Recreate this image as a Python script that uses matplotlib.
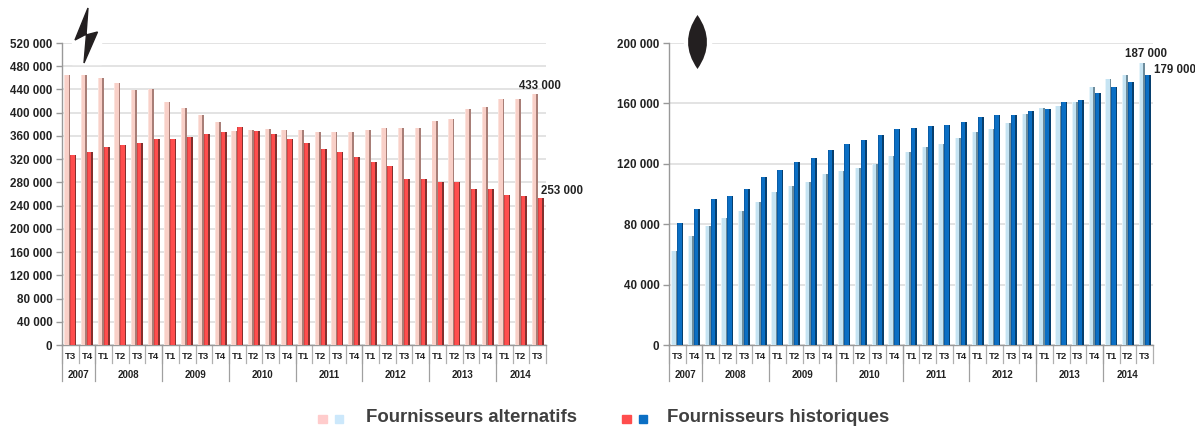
#!/usr/bin/env python3
"""Two bar panels: electricity and gas customers, alternative vs incumbent suppliers."""

import matplotlib
matplotlib.use("Agg")
import matplotlib.pyplot as plt
import numpy as np
from matplotlib.patches import PathPatch, Polygon, Rectangle
from matplotlib.path import Path

quarters = ["T3", "T4"] + ["T1", "T2", "T3", "T4"] * 6 + ["T1", "T2", "T3"]
years = ["2007", "2008", "2009", "2010", "2011", "2012", "2013", "2014"]
year_counts = [2, 4, 4, 4, 4, 4, 4, 3]

elec_alt = [465, 465, 459, 451, 439, 441, 418, 408, 396, 384, 369, 371, 372, 371, 370,
            366, 366, 367, 370, 374, 373, 374, 385, 390, 407, 409, 423, 424, 433]
elec_hist = [327, 332, 341, 344, 347, 354, 355, 359, 363, 366, 375, 369, 363, 355, 348,
             338, 332, 324, 315, 308, 286, 286, 281, 280, 268, 268, 259, 256, 253]
gas_alt = [62, 72, 79, 84, 89, 95, 101, 105, 108, 113, 115, 117, 120, 125, 128,
           131, 133, 137, 141, 143, 147, 153, 157, 158, 161, 171, 176, 179, 187]
gas_hist = [81, 90, 97, 99, 103, 111, 116, 121, 124, 129, 133, 136, 139, 143, 144,
            145, 146, 148, 151, 152, 152, 155, 156, 161, 162, 167, 171, 174, 179]

elec_ticks = list(range(0, 520001, 40000))
gas_ticks = list(range(0, 200001, 40000))

FONT = "Liberation Sans"
W, H = 1195.0, 426.0
BAR_W = 0.36
LABEL = dict(family=FONT, fontweight="bold", color="#222222")


def fmt(v):
    return f"{v:,}".replace(",", " ")


def draw_bars(ax, x, vals, main, light, dark):
    ax.bar(x, vals, BAR_W, color=main, zorder=3)
    ax.bar(x - BAR_W * 0.42, vals, BAR_W * 0.16, color=light, zorder=4)
    ax.bar(x + BAR_W * 0.36, vals, BAR_W * 0.28, color=dark, zorder=4)


def draw_panel(left, vals_alt, vals_hist, ticks, colors_alt, colors_hist):
    ax = fig.add_axes([left / W, 1 - 345 / H, 484 / W, 302 / H])
    n = len(quarters)
    xs = np.arange(n)
    draw_bars(ax, xs - BAR_W / 2, np.array(vals_alt) * 1000, *colors_alt)
    draw_bars(ax, xs + BAR_W / 2, np.array(vals_hist) * 1000, *colors_hist)

    ax.set_xlim(-0.5, n - 0.5)
    ax.set_ylim(0, ticks[-1])
    ax.set_yticks(ticks)
    ax.set_yticklabels([fmt(t) for t in ticks], fontsize=8.4, **LABEL)
    ax.tick_params(axis="y", length=4, width=1, color="#999999", pad=3)
    ax.set_xticks([])
    ax.grid(True, axis="y", color="#dedede", linewidth=1.2, zorder=0)
    ax.set_axisbelow(True)
    for side in ("top", "right"):
        ax.spines[side].set_visible(False)
    for side in ("left", "bottom"):
        ax.spines[side].set_color("#999999")
        ax.spines[side].set_linewidth(1)

    # table style category axis under the bars
    trans = ax.get_xaxis_transform()
    for i, q in enumerate(quarters):
        ax.plot([i - 0.5, i - 0.5], [0, -18 / 302], transform=trans, clip_on=False,
                color="#b0b0b0", lw=0.9)
        ax.text(i, -11.5 / 302, q, transform=trans, ha="center", va="center",
                fontsize=6.8, **LABEL)
    ax.plot([n - 0.5, n - 0.5], [0, -18 / 302], transform=trans, clip_on=False,
            color="#b0b0b0", lw=0.9)
    start = 0
    for year, count in zip(years, year_counts):
        ax.plot([start - 0.5, start - 0.5], [0, -36 / 302], transform=trans, clip_on=False,
                color="#a0a0a0", lw=0.9)
        ax.text(start + count / 2 - 0.5, -30 / 302, year, transform=trans, ha="center",
                va="center", fontsize=7, **LABEL)
        start += count
    return ax


fig = plt.figure(figsize=(W / 100, H / 100), dpi=100)

red_alt = ("#f9d0c8", "#fbe2dc", "#a87e77")
red_hist = ("#ff4d4d", "#d94242", "#84302e")
blue_alt = ("#c6e4f3", "#e6f4fa", "#6d8c9c")
blue_hist = ("#0b6fc4", "#0a5ca6", "#073f6e")

ax1 = draw_panel(62, elec_alt, elec_hist, elec_ticks, red_alt, red_hist)
ax2 = draw_panel(669, gas_alt, gas_hist, gas_ticks, blue_alt, blue_hist)

ax1.text(28 + 0.12, 433000 + 3000, fmt(433000), ha="center", va="bottom", fontsize=8.3, **LABEL)
ax1.text(28.2, 253000 + 2400, fmt(253000), ha="left", va="bottom", fontsize=8.3, **LABEL)
ax2.text(28.1, 187000 + 1500, fmt(187000), ha="center", va="bottom", fontsize=8.3, **LABEL)
ax2.text(28.55, 179000 - 1000, fmt(179000), ha="left", va="bottom", fontsize=8.3, **LABEL)


def px(points):
    return [(x / W, 1 - y / H) for x, y in points]


# white plates behind the icons cut the grid lines
fig.add_artist(Rectangle((72 / W, 1 - 64 / H), 29 / W, 55 / H, color="white", zorder=5))
fig.add_artist(Rectangle((684 / W, 1 - 70 / H), 27 / W, 59 / H, color="white", zorder=5))

bolt = [(88, 8), (75, 40), (86.5, 34), (84, 63), (97.5, 32), (86, 35)]
fig.add_artist(Polygon(px(bolt), closed=True, color="#231f20", zorder=6))

leaf_pts = px([(697.5, 15), (678.5, 42), (697.5, 69), (716.5, 42), (697.5, 15)])
leaf_codes = [Path.MOVETO, Path.CURVE3, Path.CURVE3, Path.CURVE3, Path.CURVE3]
fig.add_artist(PathPatch(Path(leaf_pts, leaf_codes), facecolor="#231f20", edgecolor="none",
                         transform=fig.transFigure, zorder=6))

# legend
for x0, col in [(318, "#ffcccc"), (334.5, "#cce8fb"), (622, "#ff4d4d"), (638.5, "#0b6fc4")]:
    fig.add_artist(Rectangle((x0 / W, 1 - 423 / H), 8.5 / W, 8 / H, color=col))
fig.text(366 / W, 1 - 417 / H, "Fournisseurs alternatifs", family=FONT, fontweight="bold",
         fontsize=13.4, color="#404040", va="center")
fig.text(667 / W, 1 - 417 / H, "Fournisseurs historiques", family=FONT, fontweight="bold",
         fontsize=13.4, color="#404040", va="center")

fig.savefig("out.png", dpi=100)
